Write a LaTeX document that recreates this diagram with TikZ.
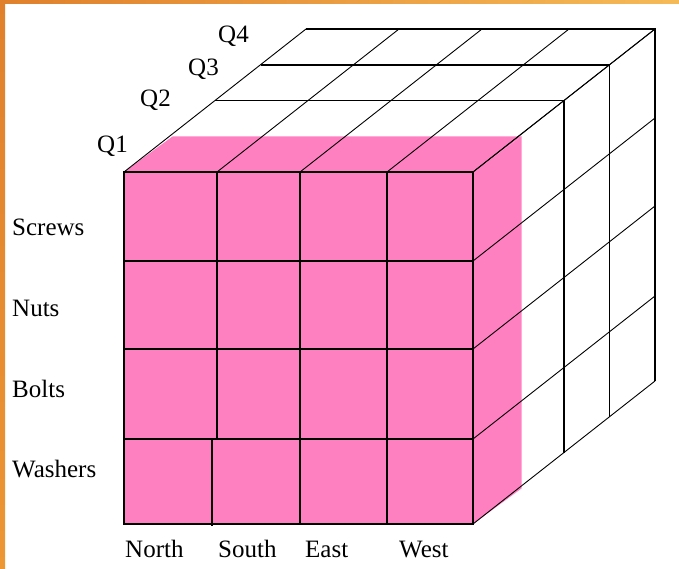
\documentclass[tikz,border=0pt]{standalone}
\usepackage{fontspec}
\setmainfont{Liberation Serif}
\definecolor{cubepink}{RGB}{255, 128, 192}
\definecolor{frameleft}{RGB}{224, 128, 44}
\definecolor{frameright}{RGB}{245, 186, 88}
\definecolor{framelow}{RGB}{236, 150, 52}
\usetikzlibrary{calc}

\begin{document}
\begin{tikzpicture}[
            x=1pt, y=-1pt,
            edge/.style={draw=black, line width=1.7pt},
            recede/.style={draw=black, line width=0.9pt},
            tag/.style={font=\fontsize{25}{25}\selectfont, inner sep=0pt, anchor=base west}
        ]
            \useasboundingbox (0,0) rectangle (679,569);
            \shade[left color=frameleft, right color=frameright] (0,0) rectangle (679,4);
            \shade[top color=frameleft, bottom color=framelow] (0,0) rectangle (5,569);

            \coordinate (ftl) at (124,172);
            \coordinate (ftr) at (473,172);
            \coordinate (fbr) at (473,524);
            \coordinate (d1) at (45.5,-35.75);
            \coordinate (d4) at (182,-143);
            \coordinate (p1) at (48.5,-35.5);

            \fill[cubepink] (ftl) rectangle (fbr);
            \fill[cubepink] (ftl) -- (ftr) -- ($(ftr)+(p1)$) -- ($(ftl)+(p1)$) -- cycle;
            \fill[cubepink] (ftr) -- (fbr) -- ($(fbr)+(p1)$) -- ($(ftr)+(p1)$) -- cycle;

            \foreach \k in {2,3,4} {
                \draw[edge] ($(ftl)+\k*(d1)$) -- ($(ftr)+\k*(d1)$) -- ($(fbr)+\k*(d1)$);
            }
            \foreach \cx in {124,217,300,387,473} {
                \draw[recede] (\cx,172) -- ($(\cx,172)+(d4)$);
            }
            \foreach \ry in {172,261,349,439,524} {
                \draw[recede] (473,\ry) -- ($(473,\ry)+(d4)$);
            }

            \draw[edge] (ftl) rectangle (fbr);
            \foreach \ry in {261,349,439} {
                \draw[edge] (124,\ry) -- (473,\ry);
            }
            \draw[edge] (217,172) -- (217,439);
            \draw[edge] (212,439) -- (212,526);
            \draw[edge] (300,172) -- (300,524);
            \draw[edge] (387,172) -- (387,524);

            \node[tag] (q1) at (97,153) {Q1};
            \node[tag] (q2) at (140,107) {Q2};
            \node[tag] (q3) at (188,76) {Q3};
            \node[tag] (q4) at (218,43) {Q4};

            \node[tag] (screws) at (12,235) {Screws};
            \node[tag] (nuts) at (12,316) {Nuts};
            \node[tag] (bolts) at (12,397) {Bolts};
            \node[tag] (washers) at (12,477) {Washers};

            \node[tag] (north) at (125,557) {North};
            \node[tag] (south) at (218,557) {South};
            \node[tag] (east) at (305,557) {East};
            \node[tag] (west) at (399,557) {West};
        \end{tikzpicture}
\end{document}
